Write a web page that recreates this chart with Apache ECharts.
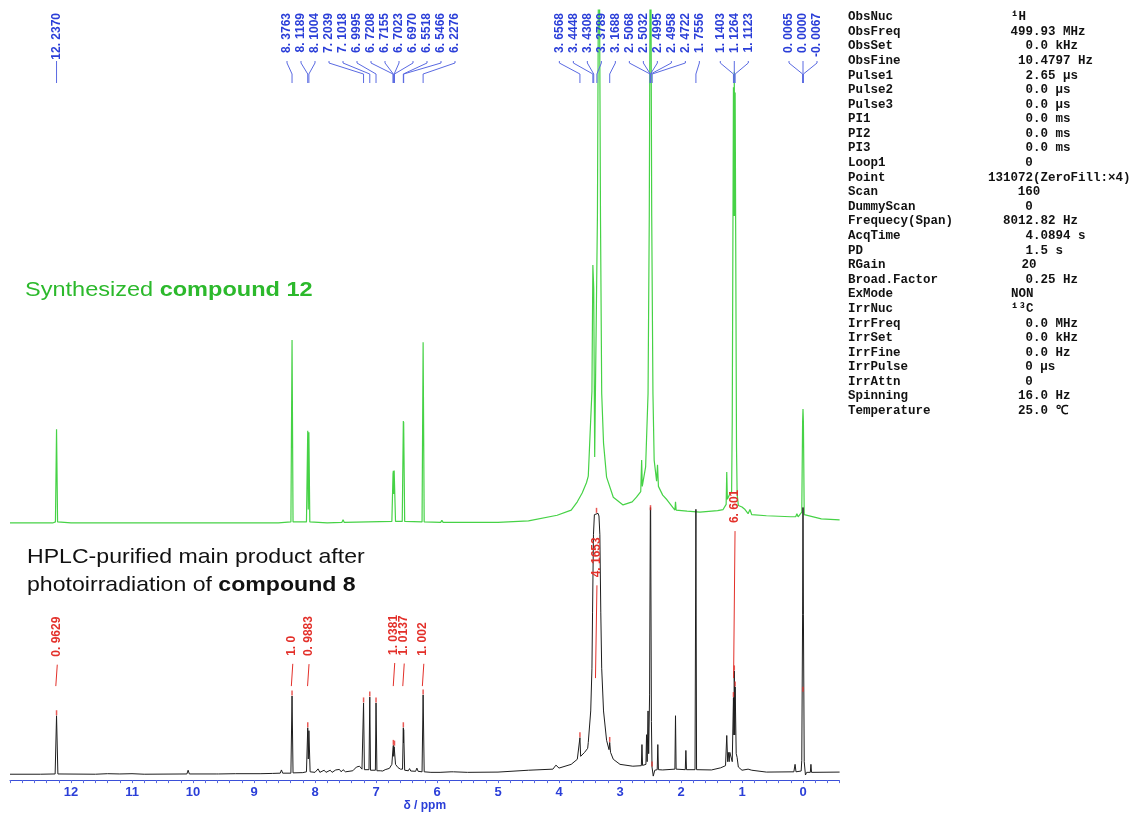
<!DOCTYPE html>
<html>
<head>
<meta charset="utf-8">
<title>1H NMR comparison</title>
<script src="https://cdn.jsdelivr.net/npm/echarts@6/dist/echarts.min.js"></script>
<style>
  html, body { margin: 0; padding: 0; background: #fff; }
  #nmr { width: 1135px; height: 813px; }
</style>
</head>
<body>
<div id="nmr"></div>
<script>
// axis tick labels (ppm)
const tickLabels = [0, 1, 2, 3, 4, 5, 6, 7, 8, 9, 10, 11, 12];

// green trace: synthesized compound 12, [ppm, intensity]
const greenTrace = [
  [13.0, 0.4], [12.30, 0.4], [12.255, 0.6], [12.237, 18.6], [12.22, 0.6], [12.0, 0.4],
  [10.0, 0.4], [8.6, 0.4],
  [8.395, 0.6], [8.3763, 35.9], [8.36, 0.6],
  [8.14, 0.6], [8.1189, 18.3], [8.11, 3.0], [8.1004, 18.0], [8.085, 0.6],
  [7.8, 0.4], [7.56, 0.5], [7.54, 1.0], [7.52, 0.5],
  [6.74, 0.7], [6.7208, 10.0], [6.7155, 10.5], [6.709, 6.0], [6.7023, 10.6], [6.6970, 10.9], [6.68, 0.7],
  [6.57, 0.7], [6.5518, 20.2], [6.549, 15.0], [6.5466, 20.0], [6.53, 0.7],
  [6.245, 0.6], [6.2276, 35.5], [6.21, 0.6],
  [5.94, 0.5], [5.92, 0.9], [5.90, 0.5],
  [5.0, 0.5], [4.5, 0.8], [4.03, 1.9], [3.8, 2.9], [3.7, 4.5], [3.62, 6.2], [3.55, 8.2],
  [3.52, 9.5], [3.50, 15.0], [3.46, 26.0], [3.4448, 50.5], [3.4308, 46.0], [3.415, 13.2],
  [3.37, 60], [3.345, 130], [3.32, 60], [3.30, 25.6], [3.27, 15.9], [3.22, 9.3],
  [3.11, 5.4], [2.95, 3.9], [2.80, 4.5], [2.73, 5.4], [2.66, 6.5], [2.645, 12.6], [2.635, 7.5],
  [2.58, 11.3], [2.54, 25.6], [2.52, 60], [2.50, 130], [2.48, 60], [2.46, 25.6], [2.44, 12.6],
  [2.40, 8.5], [2.385, 11.7], [2.37, 7.5], [2.30, 5.8], [2.23, 4.9],
  [2.10, 2.9], [2.09, 4.5], [2.08, 2.9], [1.9, 2.7], [1.69, 2.5], [1.40, 2.8], [1.31, 3.0],
  [1.26, 4.0], [1.25, 10.3], [1.24, 5.0], [1.20, 6.0], [1.17, 6.5], [1.16, 20],
  [1.1403, 85], [1.133, 60], [1.1264, 88], [1.119, 60], [1.1123, 84], [1.09, 15], [1.08, 6.0],
  [1.06, 3.8], [1.0, 3.5], [0.95, 3.0], [0.90, 2.2], [0.87, 3.0], [0.84, 2.0], [0.6, 1.8],
  [0.2, 1.6], [0.12, 1.6], [0.10, 2.2], [0.08, 1.6], [0.02, 2.5],
  [0.0065, 20], [0.0, 22.5], [-0.0067, 20], [-0.02, 2.0], [-0.3, 1.2], [-0.6, 1.0]
];

// black trace: HPLC-purified product, [ppm, intensity]
const blackTrace = [
  [13.0, 0.3], [12.5, 0.3], [12.26, 0.4], [12.237, 22.2], [12.215, 0.4],
  [11.6, 0.3], [11.4, 0.5], [11.2, 0.4], [11.0, 0.5], [10.8, 0.3],
  [10.10, 0.4], [10.08, 1.8], [10.06, 0.4], [9.62, 0.4], [9.60, 1.0], [9.58, 0.4],
  [9.3, 0.5], [8.9, 0.5], [8.7, 0.6], [8.57, 0.7], [8.55, 1.9], [8.53, 0.7],
  [8.395, 0.7], [8.3763, 29.6], [8.36, 0.8],
  [8.2, 0.9], [8.14, 1.2], [8.1189, 17.7], [8.11, 6.0], [8.1004, 16.6], [8.08, 1.2],
  [8.0, 1.0], [7.95, 2.3], [7.92, 1.0], [7.85, 1.8], [7.82, 1.0], [7.75, 1.8], [7.72, 1.0],
  [7.66, 1.9], [7.63, 1.2], [7.60, 2.1], [7.57, 1.2], [7.54, 2.0], [7.50, 1.2],
  [7.38, 1.6], [7.32, 3.0], [7.27, 3.3], [7.23, 2.2],
  [7.215, 2.4], [7.2039, 27.0], [7.19, 2.0],
  [7.115, 2.0], [7.1018, 29.2], [7.09, 1.8],
  [7.01, 1.8], [6.9995, 27.0], [6.985, 1.6],
  [6.93, 1.6], [6.91, 2.2], [6.89, 1.5], [6.85, 2.0], [6.82, 1.6],
  [6.78, 2.5], [6.74, 4.0], [6.7208, 10.2], [6.7155, 11.1], [6.709, 7.0], [6.7023, 10.6], [6.6970, 10.8],
  [6.68, 4.0], [6.64, 2.8], [6.60, 2.2],
  [6.565, 2.2], [6.5518, 17.7], [6.549, 12.0], [6.5466, 17.0], [6.53, 1.8],
  [6.47, 1.6], [6.45, 2.4], [6.43, 1.5], [6.35, 1.4], [6.33, 2.6], [6.31, 1.4],
  [6.245, 1.2], [6.2276, 30.0], [6.21, 1.2],
  [6.1, 1.0], [5.95, 1.0], [5.77, 1.2], [5.75, 1.9], [5.73, 1.2], [5.5, 1.0], [5.0, 1.1],
  [4.5, 1.8], [4.1, 2.2], [4.05, 3.7], [4.0, 2.6], [3.8, 4.0], [3.7, 5.9],
  [3.67, 6.5], [3.6568, 14.0], [3.645, 7.0], [3.58, 8.5], [3.53, 10.0], [3.52, 12.2], [3.505, 12.5],
  [3.48, 24], [3.46, 40], [3.45, 61], [3.435, 90], [3.42, 97.5], [3.39, 98], [3.36, 98],
  [3.345, 97], [3.33, 90], [3.315, 61], [3.30, 40], [3.27, 24], [3.22, 13], [3.18, 9.5],
  [3.1688, 12.2], [3.155, 8.5], [3.11, 5.9], [3.0, 4.0], [2.79, 3.3], [2.65, 3.5],
  [2.64, 11.4], [2.63, 3.6], [2.575, 4.0], [2.565, 15.1], [2.555, 5.0], [2.54, 24], [2.53, 8.0],
  [2.515, 30], [2.50, 115], [2.485, 20], [2.475, 3.0], [2.455, -0.4], [2.43, 1.8],
  [2.39, 2.0], [2.38, 11.4], [2.37, 2.0], [2.30, 1.9], [2.10, 2.2], [2.09, 22.2], [2.08, 2.2],
  [1.93, 2.0], [1.92, 9.2], [1.91, 2.0], [1.77, 2.0], [1.7556, 99.5], [1.745, 2.0],
  [1.5, 1.9], [1.35, 2.7], [1.27, 3.5], [1.25, 14.8], [1.235, 5.0], [1.225, 8.5], [1.21, 5.0],
  [1.20, 8.5], [1.16, 5.0], [1.1403, 29], [1.133, 15], [1.1264, 39], [1.119, 15], [1.1123, 33],
  [1.095, 8.0], [1.08, 6.6], [1.06, 3.0], [1.0, 1.8], [0.9, 2.2], [0.87, 2.9], [0.84, 1.8],
  [0.6, 1.1], [0.15, 1.2], [0.13, 4.0], [0.115, 1.2], [0.03, 1.5], [0.02, 5.5],
  [0.0065, 60], [0.0, 110], [-0.0067, 60], [-0.02, 5.0], [-0.04, 0.0], [-0.06, 1.0],
  [-0.12, 1.0], [-0.13, 4.0], [-0.14, 1.0], [-0.6, 1.1]
];

// peak-pick marks on the black trace
const peakMarks = [
  [12.237, 22.2], [8.3763, 29.6], [8.1189, 17.7], [7.2039, 27.0], [7.1018, 29.2], [6.9995, 27.0],
  [6.7155, 11.1], [6.6970, 10.8], [6.5518, 17.7], [6.2276, 30.0], [3.6568, 14.0], [3.385, 98],
  [3.1688, 12.2], [2.50, 99], [2.475, 3.0], [1.1403, 29], [1.1264, 39], [1.1123, 33], [0.0, 31]
];

// peak list of compound 12 (blue labels)
const peakPpm = [
  12.2370, 8.3763, 8.1189, 8.1004, 7.2039, 7.1018, 6.9995, 6.7208, 6.7155, 6.7023, 6.6970,
  6.5518, 6.5466, 6.2276, 3.6568, 3.4448, 3.4308, 3.3789, 3.1688, 2.5068, 2.5032, 2.4995,
  2.4958, 2.4722, 1.7556, 1.1403, 1.1264, 1.1123, 0.0065, 0.0000, -0.0067
];

// integrals of the black trace
const integralPpm = [12.237, 8.376, 8.11, 6.705, 6.549, 6.228, 3.39, 1.126];
const integralValue = [0.9629, 1.0, 0.9883, 1.0381, 1.0137, 1.002, 4.1653, 6.601];
const integralLabels = ['0. 9629', '1. 0', '0. 9883', '1. 0381', '1. 0137', '1. 002', '4. 1653', '6. 601'];
const integralBase = [33.3, 33.3, 33.3, 33.3, 33.3, 33.3, 36.3, 36.3];

// acquisition parameters
const paramNames = [
  'ObsNuc', 'ObsFreq', 'ObsSet', 'ObsFine', 'Pulse1', 'Pulse2', 'Pulse3', 'PI1', 'PI2', 'PI3',
  'Loop1', 'Point', 'Scan', 'DummyScan', 'Frequecy(Span)', 'AcqTime', 'PD', 'RGain',
  'Broad.Factor', 'ExMode', 'IrrNuc', 'IrrFreq', 'IrrSet', 'IrrFine', 'IrrPulse', 'IrrAttn',
  'Spinning', 'Temperature'
];
const paramValues = [
  '¹H', '499.93 MHz', '0.0 kHz', '10.4797 Hz', '2.65 µs', '0.0 µs', '0.0 µs', '0.0 ms', '0.0 ms',
  '0.0 ms', '0', '131072(ZeroFill:×4)', '160', '0', '8012.82 Hz', '4.0894 s', '1.5 s', '20',
  '0.25 Hz', 'NON', '¹³C', '0.0 MHz', '0.0 kHz', '0.0 Hz', '0 µs', '0', '16.0 Hz', '25.0 ℃'
];

const BLUE = '#2a3ed8';
const BLUE_LINE = '#5a6ae2';
const RED = '#e3302a';
const GREEN_LINE = '#46d246';
const GREEN_TEXT = '#2cb92c';
const INTEGRAL_SCALE = 8.34;

const chart = echarts.init(document.getElementById('nmr'));

const option = {
  animation: false,
  backgroundColor: '#ffffff',
  grid: [
    { left: 10, right: 295.4, top: 10, bottom: 288 },
    { left: 10, right: 295.4, top: 508, bottom: 30 }
  ],
  xAxis: [
    { gridIndex: 0, type: 'value', min: -0.6, max: 13, inverse: true, show: false },
    {
      gridIndex: 1,
      type: 'value',
      min: -0.6,
      max: 13,
      interval: 0.2,
      inverse: true,
      axisLine: { onZero: false, lineStyle: { color: '#3a4fd8', width: 1 } },
      axisTick: { inside: false, length: 3, lineStyle: { color: BLUE_LINE } },
      splitLine: { show: false },
      axisLabel: {
        color: BLUE,
        fontSize: 13,
        fontWeight: 'bold',
        fontFamily: 'Liberation Sans',
        margin: 6,
        formatter: function (v) {
          const r = Math.round(v);
          return Math.abs(v - r) < 1e-6 && tickLabels.indexOf(r) >= 0 ? String(r) : '';
        }
      },
      name: 'δ / ppm',
      nameLocation: 'middle',
      nameGap: 19,
      nameTextStyle: { color: BLUE, fontSize: 12, fontWeight: 'bold', fontFamily: 'Liberation Sans' }
    }
  ],
  yAxis: [
    { gridIndex: 0, type: 'value', min: 0, max: 100, show: false },
    { gridIndex: 1, type: 'value', min: -1.9, max: 100, show: false }
  ],
  series: [
    {
      name: 'compound 12',
      type: 'line',
      xAxisIndex: 0,
      yAxisIndex: 0,
      data: greenTrace,
      showSymbol: false,
      clip: true,
      lineStyle: { color: GREEN_LINE, width: 1.2 },
      z: 3
    },
    {
      name: 'HPLC product',
      type: 'line',
      xAxisIndex: 1,
      yAxisIndex: 1,
      data: blackTrace,
      showSymbol: false,
      clip: true,
      lineStyle: { color: '#1e1e1e', width: 1 },
      z: 3
    },
    {
      name: 'peak marks',
      type: 'scatter',
      xAxisIndex: 1,
      yAxisIndex: 1,
      data: peakMarks,
      symbol: 'rect',
      symbolSize: [1.5, 5],
      symbolOffset: [0, -3],
      itemStyle: { color: RED },
      z: 4
    },
    {
      name: 'integrals',
      type: 'custom',
      xAxisIndex: 1,
      yAxisIndex: 1,
      clip: false,
      z: 5,
      data: integralPpm.map((p, i) => [p, integralValue[i], integralBase[i]]),
      renderItem: function (params, api) {
        const ppm = api.value(0);
        const val = api.value(1);
        const base = api.value(2);
        const p0 = api.coord([ppm + 0.012, base]);
        const p1 = api.coord([ppm - 0.012, base + val * INTEGRAL_SCALE]);
        const cx = api.coord([ppm, base])[0];
        return {
          type: 'group',
          children: [
            {
              type: 'line',
              shape: { x1: p0[0], y1: p0[1], x2: p1[0], y2: p1[1] },
              style: { stroke: RED, lineWidth: 1 }
            },
            {
              type: 'text',
              x: cx,
              y: p1[1] - 8,
              rotation: Math.PI / 2,
              style: {
                text: integralLabels[params.dataIndex],
                fill: RED,
                fontSize: 12,
                fontWeight: 'bold',
                fontFamily: 'Liberation Sans',
                align: 'left',
                verticalAlign: 'middle'
              }
            }
          ]
        };
      }
    }
  ]
};

chart.setOption(option);

// spread crowded peak labels into evenly spaced clusters
function spreadLabels(xs, gap) {
  let clusters = xs.map((x, i) => ({ items: [i], center: x }));
  let merged = true;
  while (merged) {
    merged = false;
    for (let k = 0; k < clusters.length - 1; k++) {
      const a = clusters[k];
      const b = clusters[k + 1];
      const aEnd = a.center + (a.items.length - 1) * gap / 2;
      const bStart = b.center - (b.items.length - 1) * gap / 2;
      if (bStart - aEnd < gap) {
        const items = a.items.concat(b.items);
        const center = items.reduce((s, i) => s + xs[i], 0) / items.length;
        clusters.splice(k, 2, { items: items, center: center });
        merged = true;
        break;
      }
    }
  }
  const out = [];
  clusters.forEach(c => {
    c.items.forEach((idx, j) => {
      out[idx] = c.center + (j - (c.items.length - 1) / 2) * gap;
    });
  });
  return out;
}

const graphics = [];

// sample titles
graphics.push({
  type: 'text', x: 25, y: 290, scaleX: 1.12,
  style: {
    text: '{n|Synthesized }{b|compound 12}',
    verticalAlign: 'middle',
    rich: {
      n: { fontSize: 21, fontFamily: 'Liberation Sans', fill: GREEN_TEXT },
      b: { fontSize: 21, fontFamily: 'Liberation Sans', fontWeight: 'bold', fill: GREEN_TEXT }
    }
  }
});
graphics.push({
  type: 'text', x: 27, y: 557, scaleX: 1.1,
  style: { text: 'HPLC-purified main product after', fill: '#111', fontSize: 21, fontFamily: 'Liberation Sans', verticalAlign: 'middle' }
});
graphics.push({
  type: 'text', x: 27, y: 585, scaleX: 1.1,
  style: {
    text: '{n|photoirradiation of }{b|compound 8}',
    verticalAlign: 'middle',
    rich: {
      n: { fontSize: 21, fontFamily: 'Liberation Sans', fill: '#111' },
      b: { fontSize: 21, fontFamily: 'Liberation Sans', fontWeight: 'bold', fill: '#111' }
    }
  }
});

// peak labels with connectors
const peakX = peakPpm.map(p => chart.convertToPixel({ xAxisIndex: 0 }, p));
const labelX = spreadLabels(peakX, 14);
peakPpm.forEach((p, i) => {
  graphics.push({
    type: 'text', x: labelX[i], y: 13, rotation: Math.PI / 2, z: 10,
    style: {
      text: p.toFixed(4).replace('.', '. '),
      fill: BLUE, fontSize: 12, fontWeight: 'bold', fontFamily: 'Liberation Sans',
      align: 'right', verticalAlign: 'middle'
    }
  });
  graphics.push({
    type: 'polyline', z: 10,
    shape: { points: [[labelX[i], 61], [labelX[i], 63], [peakX[i], 74], [peakX[i], 83]] },
    style: { stroke: BLUE_LINE, lineWidth: 1, fill: null }
  });
});

// parameter table
const CHAR_W = 7.5;
paramNames.forEach((name, i) => {
  const y = 17 + i * 14.59;
  const val = paramValues[i];
  const m = val.match(/^-?\d+/);
  let vx = 1011;
  if (m) {
    const n = m[0].length;
    if (val.charAt(n) === '.' || n > 3) vx = 1033 - n * CHAR_W;
    else vx = 1029 - n * CHAR_W / 2;
  }
  graphics.push({
    type: 'text', x: 848, y: y,
    style: { text: name, fill: '#111', font: 'bold 12.5px "Liberation Mono", monospace', verticalAlign: 'middle' }
  });
  graphics.push({
    type: 'text', x: vx, y: y,
    style: { text: val, fill: '#111', font: 'bold 12.5px "Liberation Mono", monospace', verticalAlign: 'middle' }
  });
});

chart.setOption({ graphic: graphics });
</script>
</body>
</html>
